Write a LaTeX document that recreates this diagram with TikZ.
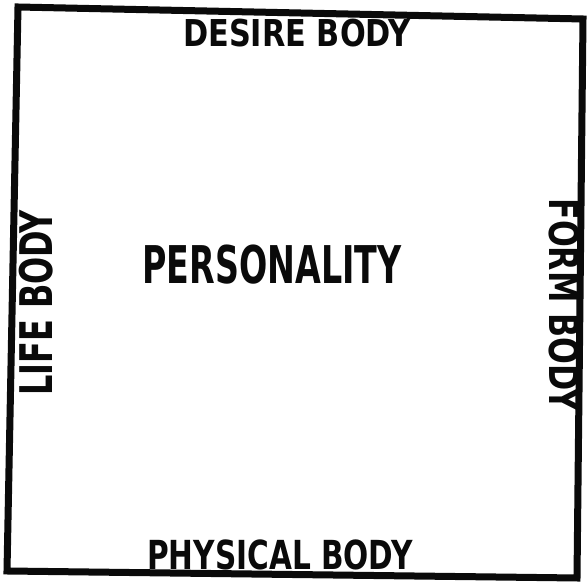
\documentclass[tikz,border=0pt]{standalone}
\usepackage{fontspec}
\setmainfont{DejaVu Sans}
\usepackage{tikz}
\definecolor{InkBlack}{RGB}{10, 10, 10}
\newcommand\lettering[2]{\fontsize{#1}{#1}\selectfont\bfseries\addfontfeatures{FakeStretch=#2}}
\tikzset{
  bodylabel/.style={inner sep=0pt, text=InkBlack, anchor=center}
}

\begin{document}
\begin{tikzpicture}[x=1pt,y=1pt]
  \path[use as bounding box, fill=white] (0,0) rectangle (587,586);

  % frame
  \draw[InkBlack, line width=7pt, line join=miter]
    (18,579) -- (583,567) -- (577,8) -- (7,15) -- cycle;

  % the four bodies
  \node[bodylabel] (desire) at (297,553) {\lettering{37}{0.82}DESIRE BODY};
  \node[bodylabel] (physical) at (280,31) {\lettering{40}{0.74}PHYSICAL BODY};
  \node[bodylabel, rotate=90] (life) at (36,283) {\lettering{45}{0.71}LIFE BODY};
  \node[bodylabel, rotate=-90] (form) at (564,281) {\lettering{41}{0.77}FORM BODY};

  % centre
  \node[bodylabel] (personality) at (272,321) {\lettering{52}{0.64}PERSONALITY};
\end{tikzpicture}
\end{document}
